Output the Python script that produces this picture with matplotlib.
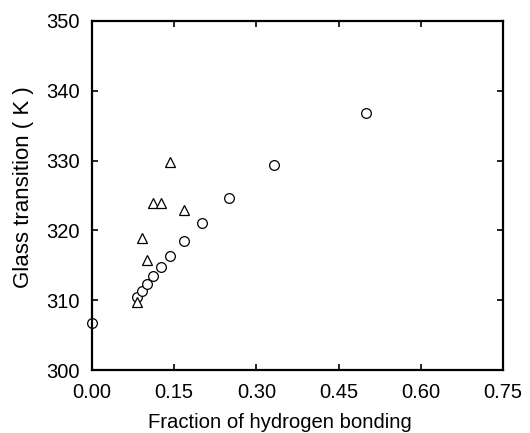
import matplotlib
matplotlib.use('Agg')
import matplotlib.pyplot as plt

plt.rcParams['font.family'] = ['Liberation Sans', 'DejaVu Sans']

# circles
circle_x = [0.0, 0.083, 0.091, 0.100, 0.111, 0.125, 0.143, 0.167, 0.200, 0.250, 0.333, 0.500]
circle_y = [306.8, 310.5, 311.3, 312.3, 313.4, 314.7, 316.4, 318.5, 321.1, 324.6, 329.4, 336.8]

# triangles
tri_x = [0.083, 0.091, 0.100, 0.111, 0.125, 0.143, 0.167]
tri_y = [309.8, 318.9, 315.8, 323.9, 323.9, 329.8, 322.9]

x_ticks = [0.00, 0.15, 0.30, 0.45, 0.60, 0.75]
y_ticks = [300, 310, 320, 330, 340, 350]

fig = plt.figure(figsize=(5.30, 4.33), dpi=100)
ax = fig.add_axes([92 / 530, 63 / 433, 411 / 530, 349 / 433])

ax.plot(circle_x, circle_y, linestyle='none', marker='o', markersize=7,
        markerfacecolor='white', markeredgecolor='black', markeredgewidth=0.9, clip_on=False)
ax.plot(tri_x, tri_y, linestyle='none', marker='^', markersize=7.5,
        markerfacecolor='white', markeredgecolor='black', markeredgewidth=0.9, clip_on=False)

ax.set_xlim(0, 0.75)
ax.set_ylim(300, 350)
ax.set_xticks(x_ticks)
ax.set_xticklabels(['%.2f' % v for v in x_ticks])
ax.set_yticks(y_ticks)
ax.tick_params(direction='in', top=True, right=True, length=4, width=1.2,
               labelsize=14.5)
ax.tick_params(axis='x', pad=9)
ax.tick_params(axis='y', pad=9)
for s in ax.spines.values():
    s.set_linewidth(1.6)

ax.set_xlabel('Fraction of hydrogen bonding', fontsize=14.6)
ax.xaxis.set_label_coords(0.457, -0.122)
ax.set_ylabel('Glass transition ( K )', fontsize=16)
ax.yaxis.set_label_coords(-0.141, 0.523)

fig.savefig('out.png', dpi=100)
